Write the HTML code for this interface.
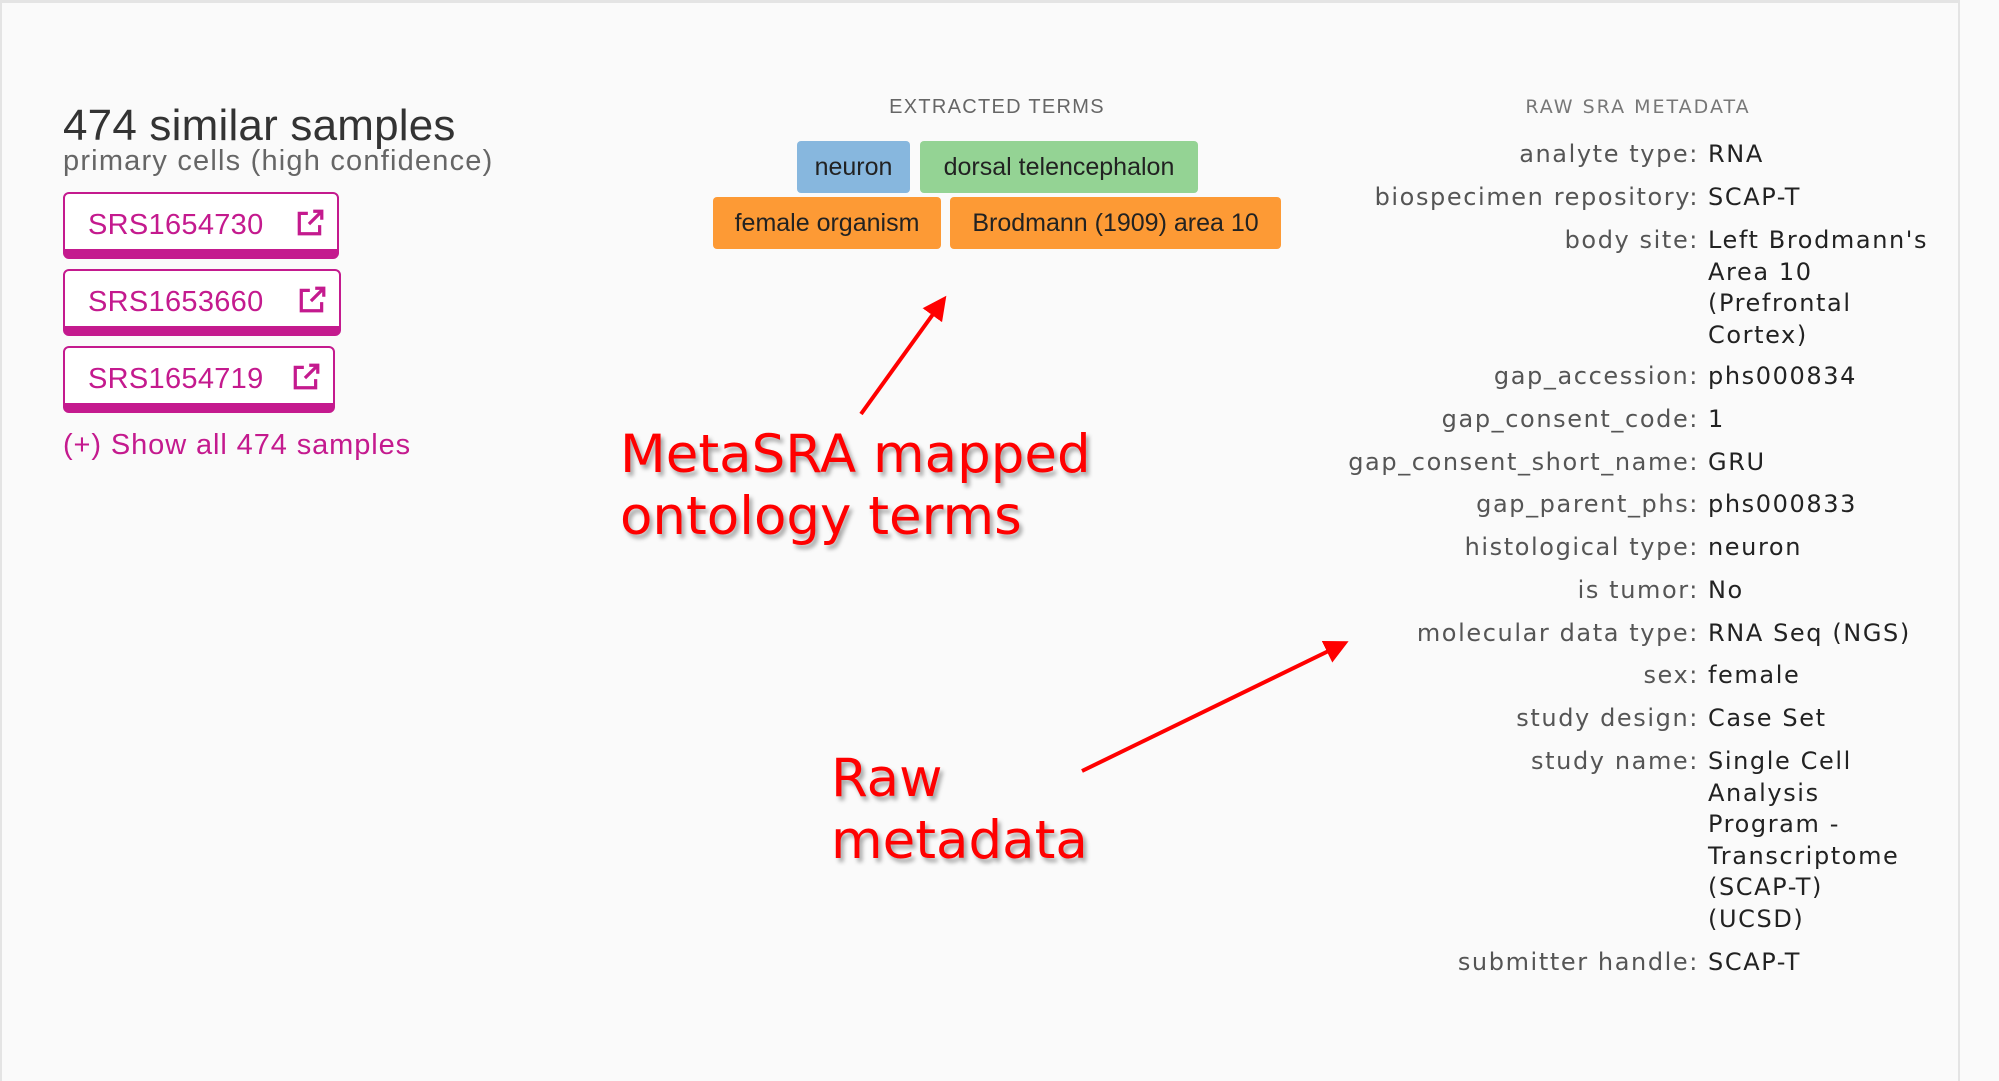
<!DOCTYPE html>
<html><head><meta charset="utf-8"><style>
body{margin:0;width:1999px;height:1081px;background:#fafafa;position:relative;overflow:hidden;font-family:"Liberation Sans",sans-serif}
.a{position:absolute;white-space:nowrap}
.btn{position:absolute;left:63px;height:67px;border:2px solid #c41a8e;border-bottom:10px solid #c41a8e;border-radius:6px;background:#fff;box-sizing:border-box;color:#c41a8e;font-size:29px;line-height:62px;padding-left:23px;letter-spacing:0.3px}
.btn svg{position:absolute;top:14px}
.tag{position:absolute;height:52px;line-height:52px;text-align:center;font-size:25px;color:#222;border-radius:4px}
.md{position:absolute;font-family:"DejaVu Sans",sans-serif;font-size:24px;line-height:31.6px;letter-spacing:1.6px}
.k{position:absolute;right:300px;text-align:right;color:#555;white-space:nowrap}
.v{position:absolute;left:1708px;color:#222;white-space:nowrap}
.red{position:absolute;font-family:"DejaVu Sans",sans-serif;color:#f00;font-size:53px;line-height:62px;text-shadow:3px 4px 4px rgba(0,0,0,.35);white-space:nowrap}
</style></head><body>
<div style="position:absolute;left:0;top:0;width:1960px;height:1081px;border-top:3px solid #e4e4e4;border-left:2px solid #e4e4e4;border-right:2px solid #e4e4e4;box-sizing:border-box"></div>
<div class="a" style="left:63px;top:101px;font-size:44px;color:#333;line-height:50px;letter-spacing:0.2px">474 similar samples</div>
<div class="a" style="left:63px;top:145px;font-size:29px;color:#666;line-height:32px;letter-spacing:1.2px">primary cells (high confidence)</div>

<div class="btn" style="top:192px;width:276px">SRS1654730<svg style="left:230px" width="30" height="30" viewBox="0 0 28 28" fill="none" stroke="#c41a8e" stroke-width="3"><path d="M12 5H4v19h19v-8"/><path d="M13 15L25 3M17 3h8v8"/></svg></div>
<div class="btn" style="top:269px;width:278px">SRS1653660<svg style="left:232px" width="30" height="30" viewBox="0 0 28 28" fill="none" stroke="#c41a8e" stroke-width="3"><path d="M12 5H4v19h19v-8"/><path d="M13 15L25 3M17 3h8v8"/></svg></div>
<div class="btn" style="top:346px;width:272px">SRS1654719<svg style="left:226px" width="30" height="30" viewBox="0 0 28 28" fill="none" stroke="#c41a8e" stroke-width="3"><path d="M12 5H4v19h19v-8"/><path d="M13 15L25 3M17 3h8v8"/></svg></div>
<div class="a" style="left:63px;top:428px;font-size:29px;color:#c41a8e;line-height:34px;letter-spacing:0.9px">(+) Show all 474 samples</div>

<div class="a" style="left:847px;width:300px;text-align:center;top:95px;font-size:20px;color:#666;line-height:24px;letter-spacing:1.3px">EXTRACTED TERMS</div>
<div class="tag" style="left:797px;top:141px;width:113px;background:#87b7de">neuron</div>
<div class="tag" style="left:920px;top:141px;width:278px;background:#94d394">dorsal telencephalon</div>
<div class="tag" style="left:713px;top:197px;width:228px;background:#fd9a35">female organism</div>
<div class="tag" style="left:950px;top:197px;width:331px;background:#fd9a35">Brodmann (1909) area 10</div>

<div class="a" style="left:1488px;width:300px;text-align:center;top:96px;font-family:'DejaVu Sans',sans-serif;font-size:19px;color:#777;line-height:22px;letter-spacing:2px">RAW SRA METADATA</div>
<div class="md" style="left:0;top:0;width:1999px;height:1081px">
<div class="k" style="top:139px">analyte type:</div><div class="v" style="top:139px">RNA</div>
<div class="k" style="top:182px">biospecimen repository:</div><div class="v" style="top:182px">SCAP-T</div>
<div class="k" style="top:225px">body site:</div><div class="v" style="top:225px">Left Brodmann's<br>Area 10<br>(Prefrontal<br>Cortex)</div>
<div class="k" style="top:361px">gap_accession:</div><div class="v" style="top:361px">phs000834</div>
<div class="k" style="top:404px">gap_consent_code:</div><div class="v" style="top:404px">1</div>
<div class="k" style="top:447px">gap_consent_short_name:</div><div class="v" style="top:447px">GRU</div>
<div class="k" style="top:489px">gap_parent_phs:</div><div class="v" style="top:489px">phs000833</div>
<div class="k" style="top:532px">histological type:</div><div class="v" style="top:532px">neuron</div>
<div class="k" style="top:575px">is tumor:</div><div class="v" style="top:575px">No</div>
<div class="k" style="top:618px">molecular data type:</div><div class="v" style="top:618px">RNA Seq (NGS)</div>
<div class="k" style="top:660px">sex:</div><div class="v" style="top:660px">female</div>
<div class="k" style="top:703px">study design:</div><div class="v" style="top:703px">Case Set</div>
<div class="k" style="top:746px">study name:</div><div class="v" style="top:746px">Single Cell<br>Analysis<br>Program -<br>Transcriptome<br>(SCAP-T)<br>(UCSD)</div>
<div class="k" style="top:947px">submitter handle:</div><div class="v" style="top:947px">SCAP-T</div>
</div>

<div class="red" style="left:620px;top:424px">MetaSRA mapped<br>ontology terms</div>
<div class="red" style="left:831px;top:748px">Raw<br>metadata</div>

<svg class="a" style="left:0;top:0" width="1999" height="1081">
<defs><marker id="h" markerWidth="6" markerHeight="6" refX="5" refY="3" orient="auto" markerUnits="strokeWidth"><path d="M0,0L6,3L0,6z" fill="#f00"/></marker></defs>
<line x1="861" y1="414" x2="944" y2="299" stroke="#f00" stroke-width="4" marker-end="url(#h)"/>
<line x1="1082" y1="771" x2="1345" y2="643" stroke="#f00" stroke-width="4" marker-end="url(#h)"/>
</svg>
</body></html>
